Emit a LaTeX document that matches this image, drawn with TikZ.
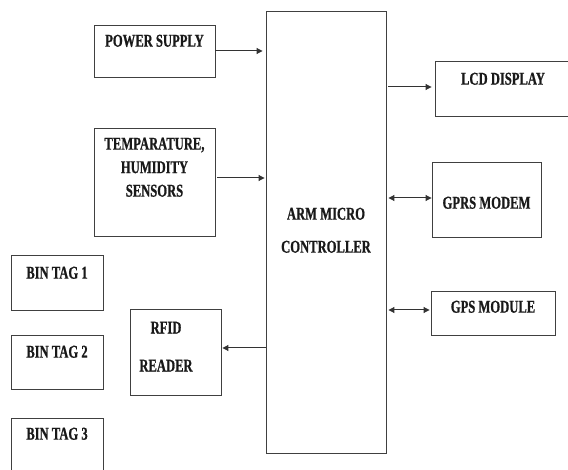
\documentclass[tikz,border=0pt]{standalone}
\usepackage{fontspec}
\newfontfamily\blkfont{Liberation Serif}[FakeStretch=0.7,FakeBold=0.8]
\usetikzlibrary{positioning,arrows.meta}

\begin{document}
\begin{tikzpicture}[x=1pt,y=-1pt,
      blk/.style={draw=black!75,line width=.9pt,inner sep=0pt},
      txt/.style={font=\blkfont\bfseries\fontsize{18}{23.5}\selectfont,
                  align=center,inner sep=0pt,text=black!90},
      arr/.style={-{Triangle[length=6pt,width=6pt]},line width=1pt,color=black!80},
      biarr/.style={{Triangle[length=6pt,width=6pt]}-{Triangle[length=6pt,width=6pt]},
                    line width=1pt,color=black!80}]
    \clip (0,0) rectangle (568,470);
    % blocks
    \node[blk,minimum width=120pt,minimum height=442pt] (arm) at (326,232) {};
    \node[blk,minimum width=121pt,minimum height=52pt] (pw) at (154.5,51) {};
    \node[blk,minimum width=121pt,minimum height=108pt] (tmp) at (154.5,182) {};
    \node[blk,minimum width=136pt,minimum height=55pt] (lcd) at (503,88.5) {};
    \node[blk,minimum width=109pt,minimum height=75pt] (gprs) at (486.5,199.5) {};
    \node[blk,minimum width=124pt,minimum height=44pt] (gps) at (493,313) {};
    \node[blk,minimum width=91pt,minimum height=86pt] (rfid) at (175.5,352) {};
    \node[blk,minimum width=92pt,minimum height=55pt] (bin1) at (57,282.5) {};
    \node[blk,minimum width=92pt,minimum height=54pt] (bin2) at (57,362) {};
    \node[blk,minimum width=92pt,minimum height=57pt] (bin3) at (57,446.5) {};
    % labels
    \node[txt,below=197pt of arm.north] (armT) {ARM MICRO\\[9.5pt]CONTROLLER};
    \node[txt,below=10pt of pw.north] (pwT) {POWER SUPPLY};
    \node[txt,below=10pt of tmp.north] (tmpT) {TEMPARATURE,\\HUMIDITY\\SENSORS};
    \node[txt,below=12pt of lcd.north] (lcdT) {LCD DISPLAY};
    \node[txt,below=35pt of gprs.north] (gprsT) {GPRS MODEM};
    \node[txt,below=10pt of gps.north] (gpsT) {GPS MODULE};
    \node[txt,below=13pt of rfid.north,xshift=-9.5pt] (rfidT) {RFID\\[14.5pt]READER};
    \node[txt,below=12pt of bin1.north] (bin1T) {BIN TAG 1};
    \node[txt,below=11pt of bin2.north] (bin2T) {BIN TAG 2};
    \node[txt,below=10pt of bin3.north] (bin3T) {BIN TAG 3};
    % links
    \draw[arr,shorten >=3pt] (pw.east) -- (pw.east -| arm.west);
    \draw[arr,shorten <=2pt,shorten >=1pt] ([yshift=4pt]tmp.east) -- ([yshift=4pt]tmp.east -| arm.west);
    \draw[arr,shorten <=2pt,shorten >=3pt] ([yshift=1.5pt]lcd.west -| arm.east) -- ([yshift=1.5pt]lcd.west);
    \draw[biarr,shorten <=2pt] ([yshift=1.5pt]gprs.west -| arm.east) -- ([yshift=1.5pt]gprs.west);
    \draw[biarr,shorten <=2pt,shorten >=1pt] ([yshift=3pt]gps.west -| arm.east) -- ([yshift=3pt]gps.west);
    \draw[arr,shorten >=1pt] ([yshift=4pt]rfid.east -| arm.west) -- ([yshift=4pt]rfid.east);
  \end{tikzpicture}
\end{document}
